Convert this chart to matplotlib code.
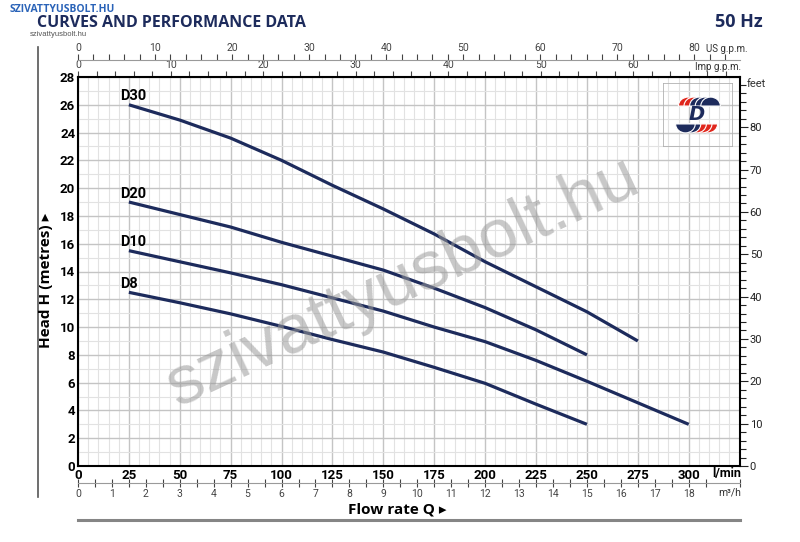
import numpy as np
import matplotlib.pyplot as plt
from matplotlib.ticker import MultipleLocator, FixedLocator
from matplotlib.patches import Wedge, Rectangle

# flow rate points (l/min) and head (m)
flow = [25, 50, 75, 100, 125, 150, 175, 200, 225, 250, 275, 300]
d30 = [26.0, 24.9, 23.6, 22.0, 20.2, 18.5, 16.7, 14.7, 12.9, 11.1, 9.0]
d20 = [19.0, 18.1, 17.2, 16.1, 15.1, 14.1, 12.8, 11.4, 9.8, 8.0]
d10 = [15.5, 14.7, 13.9, 13.05, 12.1, 11.15, 10.0, 8.95, 7.6, 6.1, 4.55, 3.0]
d8 = [12.5, 11.75, 10.95, 10.05, 9.1, 8.2, 7.1, 5.95, 4.45, 3.0]
curves = {'D30': d30, 'D20': d20, 'D10': d10, 'D8': d8}

lpm_ticks = [0, 25, 50, 75, 100, 125, 150, 175, 200, 225, 250, 275, 300]
head_ticks = list(range(0, 29, 2))
feet_ticks = list(range(0, 81, 10))
us_ticks = list(range(0, 81, 10))
imp_ticks = list(range(0, 61, 10))
m3h_ticks = list(range(0, 19))

NAVY = '#1d2b5c'
COND = ['Roboto', 'DejaVu Sans']
plt.rcParams['font.family'] = COND

W, H = 800, 542


def px(x, y):
    return x / W, 1 - y / H


fig = plt.figure(figsize=(8, 5.42), dpi=100)
l, r, t, b = 78, 740, 77, 466
ax = fig.add_axes([l / W, 1 - b / H, (r - l) / W, (b - t) / H])
ax.set_xlim(0, 325.2)
ax.set_ylim(0, 28)

# grid
ax.xaxis.set_minor_locator(MultipleLocator(5))
ax.yaxis.set_minor_locator(MultipleLocator(1))
ax.set_xticks(lpm_ticks)
ax.set_yticks(head_ticks)
ax.grid(which='minor', color='#e2e2e2', lw=0.8, zorder=0)
ax.grid(which='major', color='#c4c4c4', lw=1.0, zorder=0)
ax.tick_params(which='both', length=0)
ax.tick_params(axis='both', labelsize=9.5, pad=2)
for lab in ax.get_xticklabels() + ax.get_yticklabels():
    lab.set_fontweight('bold')
for s in ax.spines.values():
    s.set_linewidth(1.5)
    s.set_color('black')

for name, vals in curves.items():
    q = flow[:len(vals)]
    ax.plot(q, vals, color=NAVY, lw=2.3, solid_capstyle='butt', zorder=3)
    ax.text(q[0] - 4.5, vals[0] + 0.6, name, fontsize=10.5, fontweight='bold',
            ha='left', va='center', zorder=4)

# right axis in feet
ry = ax.secondary_yaxis('right', functions=(lambda m: m * 3.28084, lambda f: f / 3.28084))
ry.set_yticks(feet_ticks)
ry.yaxis.set_minor_locator(MultipleLocator(2))
ry.tick_params(which='major', length=6, width=0.8, labelsize=8, colors='#222222', pad=1)
ry.tick_params(which='minor', length=4, width=0.8, colors='#222222')
ry.spines['right'].set_visible(False)

# imperial gpm on top of frame
imp = ax.secondary_xaxis('top', functions=(lambda q: q / 4.54609, lambda g: g * 4.54609))
imp.set_xticks(imp_ticks)
imp.xaxis.set_minor_locator(MultipleLocator(2))
imp.tick_params(which='both', length=4, width=0.8, labelsize=7.5, colors='#444444', pad=1)
imp.spines['top'].set_visible(False)

# US gpm scale above
us = ax.secondary_xaxis((b - 60) / (b - t), functions=(lambda q: q / 3.78541, lambda g: g * 3.78541))
us.set_xticks(us_ticks)
us.xaxis.set_minor_locator(FixedLocator(np.arange(0, 86, 2)))
us.tick_params(which='both', length=4, width=0.8, labelsize=7.5, colors='#444444', pad=1)
us.spines['top'].set_color('#9a9a9a')
us.spines['bottom'].set_color('#9a9a9a')

# m3/h scale below
m3 = ax.secondary_xaxis(-(483 - b) / (b - t), functions=(lambda q: q * 0.06, lambda v: v / 0.06))
m3.set_xticks(m3h_ticks)
m3.xaxis.set_minor_locator(FixedLocator(np.arange(0.5, 19.6, 1)))
m3.tick_params(which='both', direction='inout', length=6, width=0.8, labelsize=7.5,
               colors='#444444', pad=1)
m3.spines['bottom'].set_color('#9a9a9a')

# unit labels
fig.text(*px(706, 49), 'US g.p.m.', fontsize=7, color='#333333', ha='left', va='center')
fig.text(*px(741, 67), 'Imp g.p.m.', fontsize=7, color='#333333', ha='right', va='center')
fig.text(*px(747, 84), 'feet', fontsize=8, color='#333333', ha='left', va='center')
fig.text(*px(741, 474), 'l/min', fontsize=9, fontweight='bold', ha='right', va='center')
fig.text(*px(741, 493), 'm³/h', fontsize=7.5, color='#333333', ha='right', va='center')

fig.text(*px(447, 509), 'Flow rate Q ▸', fontsize=11, fontweight='bold', ha='right',
         va='center', family=['Open Sans', 'DejaVu Sans'])
fig.text(*px(46, 280), 'Head H (metres) ▸', fontsize=11, fontweight='bold', rotation=90,
         ha='center', va='center', family=['Open Sans', 'DejaVu Sans'])

# frame decorations
fig.add_artist(plt.Line2D([38 / W, 38 / W], [1 - 47 / H, 1 - 497 / H], color='#555555', lw=1.2))
fig.add_artist(plt.Line2D([l / W, r / W], [1 - 520 / H, 1 - 520 / H], color='#858585', lw=2.2))

# header
fig.text(*px(37, 23), 'CURVES AND PERFORMANCE DATA', fontsize=11.5, fontweight='bold',
         color=NAVY, ha='left', va='center', family=['Open Sans', 'DejaVu Sans'])
fig.text(*px(763, 22), '50 Hz', fontsize=13, fontweight='bold', color=NAVY,
         ha='right', va='center', family=['Open Sans', 'DejaVu Sans'])
fig.text(*px(10, 10), 'SZIVATTYUSBOLT.HU', fontsize=7.5, fontweight='bold', color='#2a63b8',
         ha='left', va='center', family=['Open Sans', 'DejaVu Sans'])
fig.text(*px(30, 34), 'szivattyusbolt.hu', fontsize=5.5, color='#555555',
         ha='left', va='center', family=['Liberation Sans', 'DejaVu Sans'])

# watermark
fig.text(*px(402, 282), 'szivattyusbolt.hu', fontsize=50, color='#9a9a9a', alpha=0.55,
         rotation=25, ha='center', va='center', family=['Liberation Sans', 'DejaVu Sans'],
         zorder=5)

# logo box
lg = fig.add_axes([663 / W, 1 - 147 / H, 70 / W, 64 / H])
lg.set_xlim(0, 1)
lg.set_ylim(0, 1)
lg.axis('off')
lg.add_patch(Rectangle((0, 0), 1, 1, fill=False, ec='#b0b0b0', lw=1.2))
RED = '#e0261c'
top_x = [0.36, 0.44, 0.52, 0.60, 0.68]
for i, cx in enumerate(top_x):
    lg.add_patch(Wedge((cx, 0.64), 0.14, 0, 180, color=RED if i < 2 else NAVY,
                       ec='white', lw=0.8))
bot_x = [0.64, 0.56, 0.48, 0.40, 0.32]
for i, cx in enumerate(bot_x):
    lg.add_patch(Wedge((cx, 0.36), 0.14, 180, 360, color=RED if i < 3 else NAVY,
                       ec='white', lw=0.8))
lg.text(0.48, 0.5, 'D', fontsize=14, fontweight='bold', style='italic', color=NAVY,
        ha='center', va='center', family=['DejaVu Sans'])

fig.savefig('out.png', dpi=100)
